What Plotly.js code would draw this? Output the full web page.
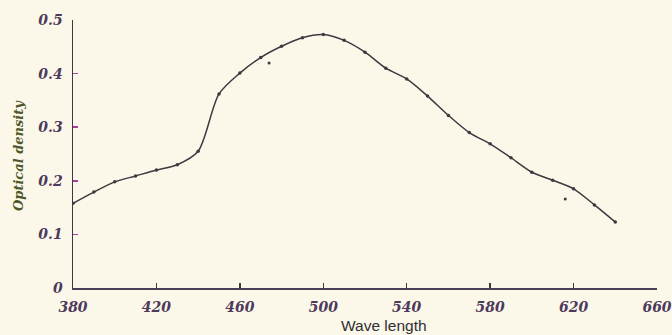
<!DOCTYPE html>
<html>
<head>
<meta charset="utf-8">
<script src="https://cdn.plot.ly/plotly-3.0.1.min.js"></script>
<style>
html,body{margin:0;padding:0;background:#fbf8ea;}
#chart{width:672px;height:335px;}
</style>
</head>
<body>
<div id="chart"></div>
<script>
// Wavelength (nm) and optical density
const waveLength = [380, 390, 400, 410, 420, 430, 440, 450, 460, 470, 480, 490, 500, 510, 520, 530, 540, 550, 560, 570, 580, 590, 600, 610, 620, 630, 640];
const opticalDensity = [0.158, 0.179, 0.198, 0.209, 0.220, 0.230, 0.255, 0.362, 0.401, 0.430, 0.451, 0.467, 0.473, 0.462, 0.440, 0.410, 0.390, 0.358, 0.322, 0.290, 0.269, 0.243, 0.216, 0.201, 0.185, 0.155, 0.123];
// Scattered off-curve dots
const strayWave = [474, 616];
const strayDensity = [0.420, 0.166];
const xTicks = [380, 420, 460, 500, 540, 580, 620, 660];
const yTicks = [0, 0.1, 0.2, 0.3, 0.4, 0.5];
const yTickText = ['0', '0.1', '0.2', '0.3', '0.4', '0.5'];

const tickFont = {family: 'DejaVu Serif', size: 14, color: '#4e3a5c', style: 'italic', weight: 'bold'};

const traces = [
  {
    x: waveLength, y: opticalDensity, type: 'scatter', mode: 'lines+markers',
    line: {shape: 'spline', smoothing: 0.8, color: '#3b3a3f', width: 1.5},
    marker: {size: 3.5, color: '#3b3a3f'},
    hoverinfo: 'x+y'
  },
  {
    x: strayWave, y: strayDensity, type: 'scatter', mode: 'markers',
    marker: {size: 3, color: '#3b3a3f'}
  }
];

const layout = {
  width: 672, height: 335,
  margin: {l: 73, r: 15, t: 20, b: 47},
  paper_bgcolor: '#fbf8ea', plot_bgcolor: '#fbf8ea',
  showlegend: false,
  xaxis: {
    range: [380, 660], tickvals: xTicks, ticktext: xTicks.map(String),
    ticks: 'inside', ticklen: 5, tickwidth: 1.5, tickcolor: '#3b3a3f',
    showline: true, linecolor: '#4a3f55', linewidth: 1.5,
    showgrid: false, zeroline: false, tickfont: tickFont, ticklabelstandoff: 6
  },
  yaxis: {
    range: [0, 0.5], tickvals: yTicks, ticktext: yTickText,
    ticks: 'inside', ticklen: 5, tickwidth: 1.5, tickcolor: '#b03a9a',
    showline: true, linecolor: '#3b3a3f', linewidth: 1.5,
    showgrid: false, zeroline: false, tickfont: tickFont, ticklabelstandoff: 6
  },
  annotations: [
    {text: 'Optical density', xref: 'paper', yref: 'paper', x: -0.093, y: 0.495,
     xanchor: 'center', yanchor: 'middle', textangle: -90, showarrow: false,
     font: {family: 'DejaVu Serif', size: 13, color: '#50582a', style: 'italic', weight: 'bold'}},
    {text: 'Wave length', xref: 'paper', yref: 'paper', x: 0.455, y: -0.14,
     xanchor: 'left', yanchor: 'middle', showarrow: false,
     font: {family: 'Liberation Sans', size: 15.5, color: '#2f2f33'}}
  ]
};

Plotly.newPlot('chart', traces, layout, {displayModeBar: false, staticPlot: true});
</script>
</body>
</html>
